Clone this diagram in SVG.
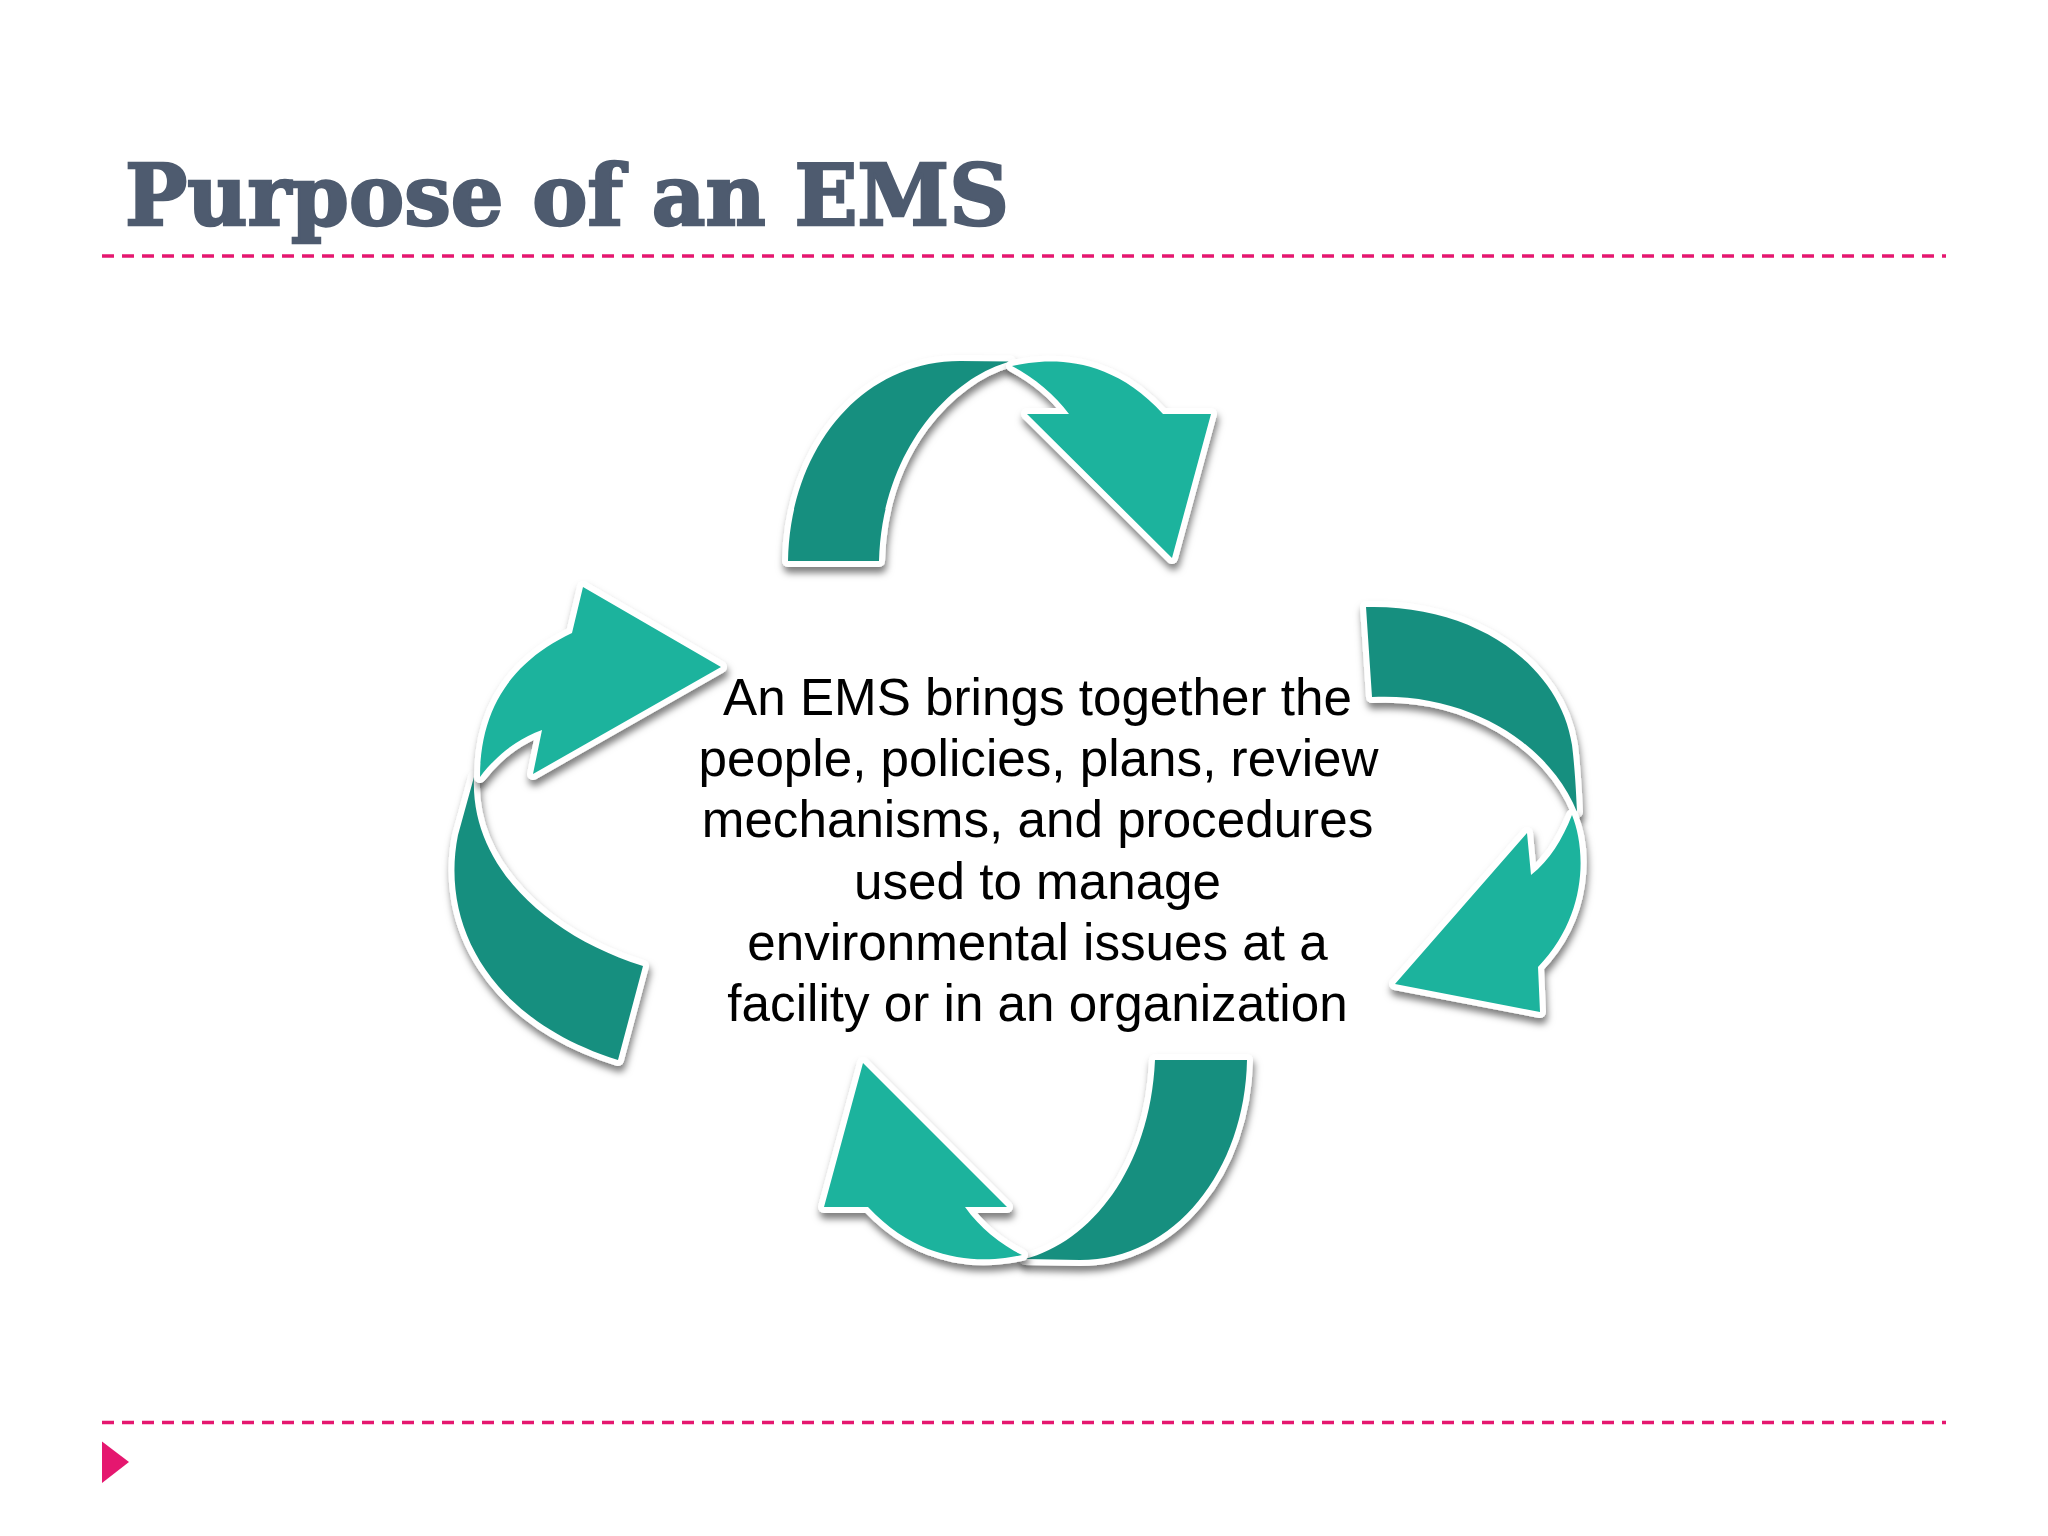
<svg xmlns="http://www.w3.org/2000/svg" width="2048" height="1536" viewBox="0 0 2048 1536">
<defs>
<filter id="sh" x="-20%" y="-20%" width="140%" height="140%"><feDropShadow dx="1.500" dy="6" stdDeviation="3.500" flood-color="#000" flood-opacity="0.5"/></filter>
</defs>
<style>
.d{fill:#188f7f}
.l{fill:#1bb39d}
.a{stroke:#fff;stroke-width:12;stroke-linejoin:round;paint-order:stroke;filter:url(#sh)}
.r{fill:none;stroke:#e5176f;stroke-width:3.500;stroke-dasharray:12 8}
.b{font-family:"Liberation Sans",Arial,sans-serif;font-size:51.2px;fill:#000;text-anchor:middle}
.t{font-family:"DejaVu Serif",serif;font-weight:700;font-size:84px;fill:#4e5b6f;stroke:#4e5b6f;stroke-width:2.500}
</style>
<rect width="2048" height="1536" fill="#fff"/>
<g id="title"><text class="t" x="125" y="225" textLength="884" lengthAdjust="spacingAndGlyphs">Purpose of an EMS</text></g>
<g id="rules"><path class="r" d="M102 256H1946"/><path class="r" d="M102 1422.500H1946"/></g>
<g id="marker"><path d="M102 1441.500L129 1462L102 1483Z" fill="#e5176f"/></g>
<g id="arrow-top">
<path class="a d" d="M788 561C790 450 860 361 960 361L1010 361.500C950 378 882 450 879 561Z"/>
<path class="a l" d="M1012 366C1040 360 1105 350 1163 414L1211 414L1172 558L1027 414L1069 414C1055 395 1035 378 1012 366Z"/>
</g>
<g id="arrow-right">
<path class="a d" d="M1366 607C1475 604 1560 665 1572 745C1575 770 1576 790 1577 812C1550 745 1470 692 1372 697Z"/>
<path class="a l" d="M1572 815C1586 850 1588 915 1538 967L1540 1012L1395 984L1527 833L1531 875C1550 860 1562 840 1572 815Z"/>
</g>
<g id="arrow-bottom">
<path class="a d" d="M1155 1060L1247 1060C1245 1170 1175 1260 1080 1260L1025 1259C1090 1242 1150 1170 1155 1060Z"/>
<path class="a l" d="M1022 1255C990 1262 925 1268 868 1207L824 1207L863 1063L1007 1207L965 1207C980 1228 1000 1244 1022 1255Z"/>
</g>
<g id="arrow-left">
<path class="a d" d="M474 777L458 835C440 925 490 1020 618 1060L643 966C545 935 470 865 474 777Z"/>
<path class="a l" d="M480 777C480 705 515 660 572 633L583 587L721 667L533 774L542 730C515 740 495 757 480 777Z"/>
</g>
<g id="center-text">
<text class="b" x="1037.500" y="715">An EMS brings together the</text>
<text class="b" x="1038.500" y="776">people, policies, plans, review</text>
<text class="b" x="1037.500" y="837">mechanisms, and procedures</text>
<text class="b" x="1037.500" y="899">used to manage</text>
<text class="b" x="1037.500" y="960">environmental issues at a</text>
<text class="b" x="1037.500" y="1021">facility or in an organization</text>
</g>
</svg>
